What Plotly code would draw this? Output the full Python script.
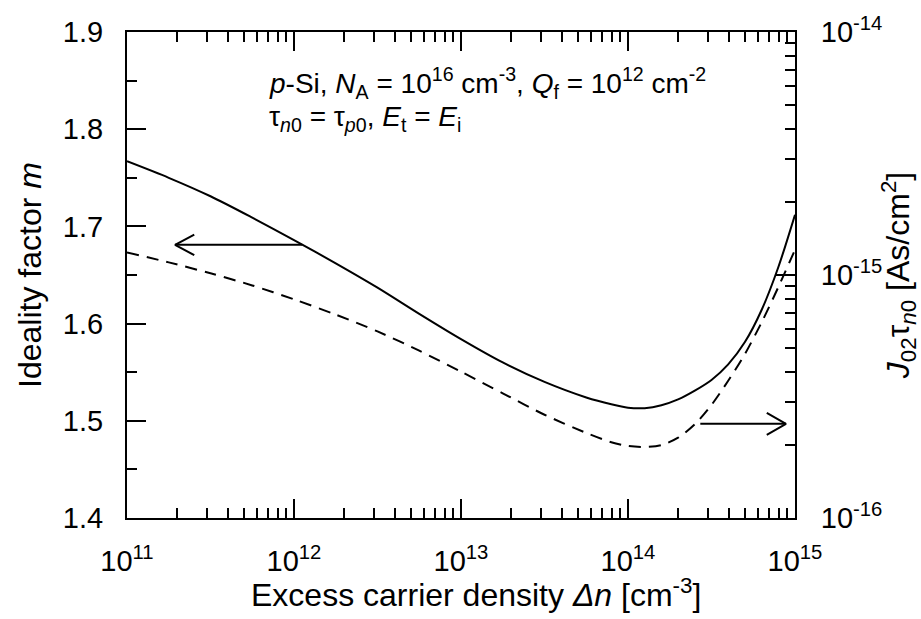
import plotly.graph_objects as go

# Ideality factor m versus excess carrier density (left axis)
dn_m = [1e11, 10**11.25, 10**11.5, 10**11.75, 1e12, 10**12.25, 10**12.5, 10**12.75,
        1e13, 10**13.25, 10**13.5, 10**13.75, 10**13.9, 1e14, 10**14.1, 10**14.2,
        10**14.3, 10**14.4, 10**14.5, 10**14.6, 10**14.7, 10**14.8, 10**14.9, 1e15]
m_vals = [1.767, 1.750, 1.731, 1.709, 1.686, 1.662, 1.637, 1.610,
          1.584, 1.560, 1.540, 1.524, 1.517, 1.5135, 1.513, 1.516,
          1.522, 1.531, 1.542, 1.558, 1.581, 1.614, 1.658, 1.712]

# J02 * tau_n0 versus excess carrier density (right axis, As/cm^2)
dn_j = [1e11, 10**11.25, 10**11.5, 10**11.75, 1e12, 10**12.25, 10**12.5, 10**12.75,
        1e13, 10**13.25, 10**13.5, 10**13.75, 10**13.9, 1e14, 10**14.1, 10**14.2,
        10**14.3, 10**14.4, 10**14.5, 10**14.6, 10**14.7, 10**14.8, 10**14.9, 1e15]
j_vals = [1.239e-15, 1.127e-15, 1.016e-15, 9.06e-16, 7.94e-16, 6.87e-16, 5.86e-16, 4.88e-16,
          4.00e-16, 3.26e-16, 2.66e-16, 2.24e-16, 2.05e-16, 1.98e-16, 1.96e-16, 1.995e-16,
          2.14e-16, 2.43e-16, 2.92e-16, 3.67e-16, 4.73e-16, 6.38e-16, 8.91e-16, 1.27e-15]

# Tick positions and labels
x_major = [1e11, 1e12, 1e13, 1e14, 1e15]
x_labels = ["10<sup>11</sup>", "10<sup>12</sup>", "10<sup>13</sup>", "10<sup>14</sup>", "10<sup>15</sup>"]
x_minor = [k * 10**e for e in range(11, 15) for k in range(2, 10)]
y_major = [1.4, 1.5, 1.6, 1.7, 1.8, 1.9]
y_labels = ["1.4", "1.5", "1.6", "1.7", "1.8", "1.9"]
y_minor = [1.45, 1.55, 1.65, 1.75, 1.85]
y2_major = [1e-16, 1e-15, 1e-14]
y2_labels = ["10<sup>-16</sup>", "10<sup>-15</sup>", "10<sup>-14</sup>"]
y2_minor = [k * 10.0**e for e in (-16, -15) for k in range(2, 10)]

# Arrows pointing each curve to its axis: (tail x, tip x, level)
left_arrow = (1.12e12, 1.94e11, 1.681)
right_arrow = (2.71e14, 8.83e14, 2.44e-16)
head_len_dec = 0.115     # arrowhead length, decades of x
head_half_m = 0.0106     # arrowhead half-width on the m axis
head_half_dec = 0.045    # arrowhead half-width, decades of J

FONT = "Liberation Sans, Arial, sans-serif"
BLACK = "#000000"

fig = go.Figure()

fig.add_trace(go.Scatter(x=dn_m, y=m_vals, mode="lines", yaxis="y",
                         line=dict(color=BLACK, width=2, shape="spline", smoothing=0.8),
                         showlegend=False, hoverinfo="skip"))
fig.add_trace(go.Scatter(x=dn_j, y=j_vals, mode="lines", yaxis="y2",
                         line=dict(color=BLACK, width=2, dash="12px,8px", shape="spline", smoothing=0.8),
                         showlegend=False, hoverinfo="skip"))

# left arrow (towards m axis)
tx, hx, lv = left_arrow
wing_x = hx * 10**head_len_dec
fig.add_trace(go.Scatter(
    x=[tx, hx, None, wing_x, hx, wing_x],
    y=[lv, lv, None, lv + head_half_m, lv, lv - head_half_m],
    mode="lines", yaxis="y", line=dict(color=BLACK, width=2),
    showlegend=False, hoverinfo="skip"))

# right arrow (towards J axis)
tx, hx, lv = right_arrow
wing_x = hx / 10**head_len_dec
fig.add_trace(go.Scatter(
    x=[tx, hx, None, wing_x, hx, wing_x],
    y=[lv, lv, None, lv * 10**head_half_dec, lv, lv / 10**head_half_dec],
    mode="lines", yaxis="y2", line=dict(color=BLACK, width=2),
    showlegend=False, hoverinfo="skip"))

tick_font = dict(family=FONT, size=29, color=BLACK)
title_font = dict(family=FONT, size=32, color=BLACK)

fig.update_layout(
    width=921, height=619,
    margin=dict(l=127, r=124, t=22, b=101),
    paper_bgcolor="white", plot_bgcolor="white",
    font=dict(family=FONT, color=BLACK),
    xaxis=dict(
        type="log", range=[11, 15],
        tickmode="array", tickvals=x_major, ticktext=x_labels,
        ticks="inside", ticklen=19, tickwidth=2, tickcolor=BLACK,
        minor=dict(tickmode="array", tickvals=x_minor, ticks="inside",
                   ticklen=10, tickwidth=2, tickcolor=BLACK, showgrid=False),
        showline=True, linecolor=BLACK, linewidth=2, mirror="ticks",
        showgrid=False, zeroline=False,
        tickfont=tick_font, ticklabelstandoff=16,
    ),
    yaxis=dict(
        range=[1.4, 1.9],
        tickmode="array", tickvals=y_major, ticktext=y_labels,
        ticks="inside", ticklen=19, tickwidth=2, tickcolor=BLACK,
        minor=dict(tickmode="array", tickvals=y_minor, ticks="inside",
                   ticklen=10, tickwidth=2, tickcolor=BLACK, showgrid=False),
        showline=True, linecolor=BLACK, linewidth=2,
        showgrid=False, zeroline=False,
        tickfont=tick_font, ticklabelstandoff=16,
        title=dict(text="Ideality factor <i>m</i>", font=title_font, standoff=12),
    ),
    yaxis2=dict(
        type="log", range=[-16, -14], overlaying="y", side="right",
        tickmode="array", tickvals=y2_major, ticktext=y2_labels,
        ticks="inside", ticklen=19, tickwidth=2, tickcolor=BLACK,
        minor=dict(tickmode="array", tickvals=y2_minor, ticks="inside",
                   ticklen=10, tickwidth=2, tickcolor=BLACK, showgrid=False),
        showline=True, linecolor=BLACK, linewidth=2,
        showgrid=False, zeroline=False,
        tickfont=tick_font, ticklabelstandoff=18,
        title=dict(text="<i>J</i><sub>02</sub>τ<sub><i>n</i>0</sub> [As/cm<sup>2</sup>]",
                   font=title_font, standoff=4),
    ),
)

# x-axis title, placed as a paper annotation below the tick labels
fig.add_annotation(
    x=0.522, y=-0.155, xref="paper", yref="paper", xanchor="center", yanchor="middle",
    showarrow=False, font=title_font,
    text="Excess carrier density <i>Δn</i> [cm<sup>-3</sup>]")

note_font = dict(family=FONT, size=28, color=BLACK)
fig.add_annotation(
    x=0.21, y=0.895, xref="paper", yref="paper", xanchor="left", yanchor="middle",
    showarrow=False, font=note_font,
    text="<i>p</i>-Si, <i>N</i><sub>A</sub> = 10<sup>16</sup> cm<sup>-3</sup>, "
         "<i>Q</i><sub>f</sub> = 10<sup>12</sup> cm<sup>-2</sup>")
fig.add_annotation(
    x=0.21, y=0.823, xref="paper", yref="paper", xanchor="left", yanchor="middle",
    showarrow=False, font=note_font,
    text="τ<sub><i>n</i>0</sub> = τ<sub><i>p</i>0</sub>, <i>E</i><sub>t</sub> = <i>E</i><sub>i</sub>")

fig.write_html("out.html")
